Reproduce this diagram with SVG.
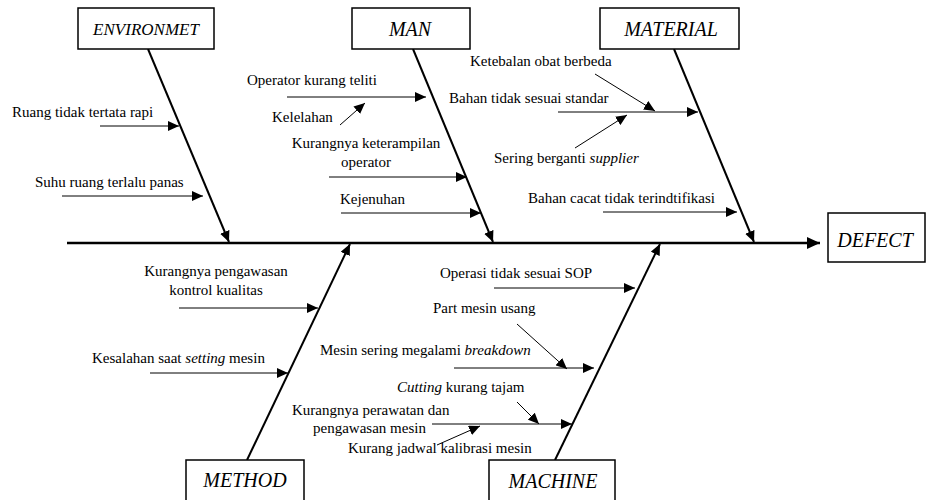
<svg xmlns="http://www.w3.org/2000/svg" width="928" height="500" viewBox="0 0 928 500">
<style>
  text { font-family: "Liberation Serif", "Times New Roman", serif; font-size: 15px; fill: #000; }
  .cat { font-size: 20px; font-style: italic; text-anchor: middle; }
  .box { fill: #fff; stroke: #000; stroke-width: 1.5; }
  .bone { stroke: #000; stroke-width: 2; fill: none; }
  .sub { stroke: #000; stroke-width: 1; fill: none; }
  .it { font-style: italic; }
</style>
<defs>
  <marker id="ah" markerUnits="userSpaceOnUse" markerWidth="12" markerHeight="10" refX="11" refY="5" orient="auto">
    <path d="M0,0 L11,5 L0,10 Z" fill="#000"/>
  </marker>
  <marker id="ahb" markerUnits="userSpaceOnUse" markerWidth="14" markerHeight="12" refX="13" refY="6" orient="auto">
    <path d="M0,0 L13,6 L0,12 Z" fill="#000"/>
  </marker>
</defs>

<g id="connectors">
  <line class="bone" x1="67" y1="243" x2="820" y2="243" marker-end="url(#ahb)" style="stroke-width:2.5"/>
  <line class="bone" x1="148" y1="49" x2="229" y2="242" marker-end="url(#ah)"/>
  <line class="bone" x1="413" y1="49" x2="493" y2="242" marker-end="url(#ah)"/>
  <line class="bone" x1="674" y1="49" x2="754" y2="242" marker-end="url(#ah)"/>
  <line class="bone" x1="247" y1="460" x2="350" y2="244" marker-end="url(#ah)"/>
  <line class="bone" x1="555" y1="460" x2="660" y2="244" marker-end="url(#ah)"/>

  <line class="sub" x1="100" y1="126" x2="179" y2="126" marker-end="url(#ah)"/>
  <line class="sub" x1="62" y1="196" x2="203" y2="196" marker-end="url(#ah)"/>

  <line class="sub" x1="287" y1="97" x2="426" y2="97" marker-end="url(#ah)"/>
  <line class="sub" x1="340" y1="125" x2="365" y2="103" marker-end="url(#ah)"/>
  <line class="sub" x1="329" y1="177" x2="467" y2="177" marker-end="url(#ah)"/>
  <line class="sub" x1="341" y1="213" x2="481" y2="213" marker-end="url(#ah)"/>

  <line class="sub" x1="595" y1="74" x2="655" y2="111" marker-end="url(#ah)"/>
  <line class="sub" x1="558" y1="112" x2="698" y2="112" marker-end="url(#ah)"/>
  <line class="sub" x1="575" y1="148" x2="627" y2="115" marker-end="url(#ah)"/>
  <line class="sub" x1="603" y1="212" x2="737" y2="212" marker-end="url(#ah)"/>

  <line class="sub" x1="179" y1="308" x2="318" y2="308" marker-end="url(#ah)"/>
  <line class="sub" x1="150" y1="373" x2="288" y2="373" marker-end="url(#ah)"/>

  <line class="sub" x1="494" y1="288" x2="635" y2="288" marker-end="url(#ah)"/>
  <line class="sub" x1="517" y1="324" x2="567" y2="369" marker-end="url(#ah)"/>
  <line class="sub" x1="454" y1="368" x2="594" y2="368" marker-end="url(#ah)"/>
  <line class="sub" x1="517" y1="402" x2="539" y2="424" marker-end="url(#ah)"/>
  <line class="sub" x1="432" y1="424" x2="572" y2="424" marker-end="url(#ah)"/>
  <line class="sub" x1="437" y1="445" x2="480" y2="426" marker-end="url(#ah)"/>
</g>

<g id="environment">
  <rect class="box" x="78" y="8" width="136" height="41"/>
  <text class="cat" x="146" y="35" style="font-size:17px">ENVIRONMET</text>
</g>
<g id="man">
  <rect class="box" x="352" y="8" width="118" height="41"/>
  <text class="cat" x="410" y="36">MAN</text>
</g>
<g id="material">
  <rect class="box" x="600" y="8" width="139" height="41"/>
  <text class="cat" x="671" y="36">MATERIAL</text>
</g>
<g id="defect">
  <rect class="box" x="828" y="213" width="97" height="49"/>
  <text class="cat" x="875" y="247">DEFECT</text>
</g>
<g id="method">
  <rect class="box" x="186" y="460" width="118" height="45"/>
  <text class="cat" x="245" y="487">METHOD</text>
</g>
<g id="machine">
  <rect class="box" x="489" y="460" width="126" height="45"/>
  <text class="cat" x="553" y="488">MACHINE</text>
</g>

<g id="causes-environment">
  <text x="12" y="117">Ruang tidak tertata rapi</text>
  <text x="35" y="187">Suhu ruang terlalu panas</text>
</g>
<g id="causes-man">
  <text x="247" y="85">Operator kurang teliti</text>
  <text x="272" y="122">Kelelahan</text>
  <text x="366" y="148" text-anchor="middle">Kurangnya keterampilan</text>
  <text x="366" y="167" text-anchor="middle">operator</text>
  <text x="340" y="204">Kejenuhan</text>
</g>
<g id="causes-material">
  <text x="470" y="66">Ketebalan obat berbeda</text>
  <text x="449" y="103">Bahan tidak sesuai standar</text>
  <text x="494" y="163">Sering berganti <tspan class="it">supplier</tspan></text>
  <text x="528" y="203">Bahan cacat tidak terindtifikasi</text>
</g>
<g id="causes-method">
  <text x="216" y="276" text-anchor="middle">Kurangnya pengawasan</text>
  <text x="216" y="295" text-anchor="middle">kontrol kualitas</text>
  <text x="92" y="363">Kesalahan saat <tspan class="it">setting</tspan> mesin</text>
</g>
<g id="causes-machine">
  <text x="440" y="278">Operasi tidak sesuai SOP</text>
  <text x="433" y="313">Part mesin usang</text>
  <text x="320" y="355">Mesin sering megalami <tspan class="it">breakdown</tspan></text>
  <text x="397" y="392"><tspan class="it">Cutting</tspan> kurang tajam</text>
  <text x="292" y="415">Kurangnya perawatan dan</text>
  <text x="313" y="433">pengawasan mesin</text>
  <text x="348" y="453">Kurang jadwal kalibrasi mesin</text>
</g>
</svg>
